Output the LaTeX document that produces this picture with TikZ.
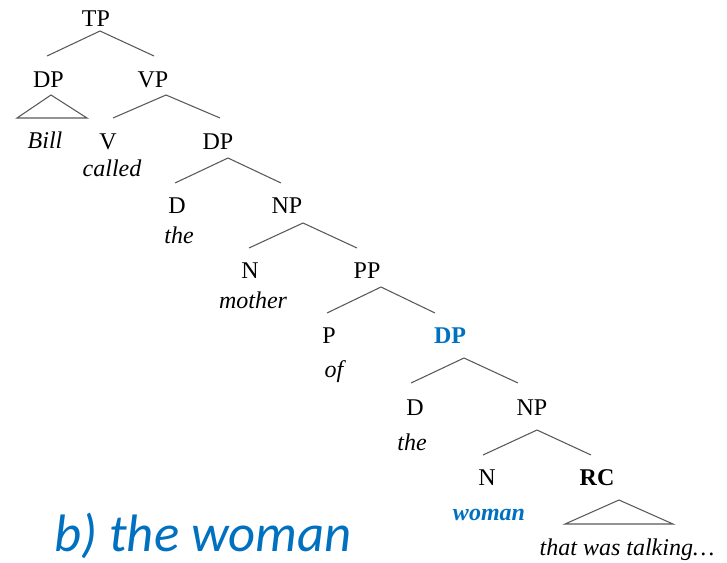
\documentclass[tikz,border=0pt]{standalone}
\usepackage{fontspec}
\setmainfont{Liberation Serif}
\newfontfamily\capfont{Carlito}
\definecolor{accent}{RGB}{0,112,192}
\begin{document}
\begin{tikzpicture}[x=0.75pt,y=-0.75pt,
  lab/.style={anchor=base,inner sep=0pt,font=\fontsize{18}{20}\selectfont},
  word/.style={anchor=base,inner sep=0pt,font=\fontsize{18}{20}\selectfont\itshape},
  hilite/.style={text=accent},
  strong/.style={font=\fontsize{18}{20}\selectfont\bfseries},
  strongword/.style={font=\fontsize{18}{20}\selectfont\bfseries\itshape},
  branch/.style={draw=black!65,line width=0.8pt},
  roof/.style={draw=black!65,line width=0.8pt,line join=miter}]
\useasboundingbox (0,0) rectangle (727,563);

% category labels and words
\node[lab] (tp) at (96,27) {TP};
\node[lab] (dp1) at (48.5,88) {DP};
\node[lab] (vp) at (153,88) {VP};
\node[word] (bill) at (45,148) {Bill};
\node[lab] (v) at (108,149) {V};
\node[word] (called) at (112,176) {called};
\node[lab] (dp2) at (218,149) {DP};
\node[lab] (d1) at (177,213) {D};
\node[word] (the1) at (179,243) {the};
\node[lab] (np1) at (287,213) {NP};
\node[lab] (n1) at (250,278) {N};
\node[word] (mother) at (253,308) {mother};
\node[lab] (pp) at (367,278) {PP};
\node[lab] (p) at (329,343) {P};
\node[word] (of) at (334,377) {of};
\node[lab,strong,hilite] (dp3) at (450,343) {DP};
\node[lab] (d2) at (415,415) {D};
\node[word] (the2) at (412,450) {the};
\node[lab] (np2) at (532,415) {NP};
\node[lab] (n2) at (487,485) {N};
\node[word,strongword,hilite] (woman) at (489,520) {woman};
\node[lab,strong] (rc) at (597,485) {RC};
\node[word] (tail) at (627,555) {that was talking\ldots};

\node[anchor=base,inner sep=0pt,text=accent,
      font=\capfont\itshape\fontsize{39.5}{42}\selectfont] (title) at (203,551) {b) the woman};

% branch points
\coordinate (tp-fork) at (100,31);
\coordinate (tp-l) at (47,56);
\coordinate (tp-r) at (154,56);
\coordinate (vp-fork) at (166,95);
\coordinate (vp-l) at (113,118);
\coordinate (vp-r) at (220,118);
\coordinate (dp2-fork) at (228,158);
\coordinate (dp2-l) at (175,183);
\coordinate (dp2-r) at (281,183);
\coordinate (np1-fork) at (303,223);
\coordinate (np1-l) at (249,248);
\coordinate (np1-r) at (357,248);
\coordinate (pp-fork) at (381,287);
\coordinate (pp-l) at (327,313);
\coordinate (pp-r) at (435,313);
\coordinate (dp3-fork) at (464,358);
\coordinate (dp3-l) at (411,383);
\coordinate (dp3-r) at (518,383);
\coordinate (np2-fork) at (537,430);
\coordinate (np2-l) at (483,455);
\coordinate (np2-r) at (591,455);

\draw[branch] (tp-l) -- (tp-fork) -- (tp-r);
\draw[branch] (vp-l) -- (vp-fork) -- (vp-r);
\draw[branch] (dp2-l) -- (dp2-fork) -- (dp2-r);
\draw[branch] (np1-l) -- (np1-fork) -- (np1-r);
\draw[branch] (pp-l) -- (pp-fork) -- (pp-r);
\draw[branch] (dp3-l) -- (dp3-fork) -- (dp3-r);
\draw[branch] (np2-l) -- (np2-fork) -- (np2-r);

% roofs over unanalysed constituents
\coordinate (dp1-top) at (51,95);
\coordinate (dp1-bl) at (17,118);
\coordinate (dp1-br) at (87,118);
\draw[roof] (dp1-top) -- (dp1-bl) -- (dp1-br) -- cycle;
\coordinate (rc-top) at (619,500);
\coordinate (rc-bl) at (565,524);
\coordinate (rc-br) at (673,524);
\draw[roof] (rc-top) -- (rc-bl) -- (rc-br) -- cycle;
\end{tikzpicture}
\end{document}
